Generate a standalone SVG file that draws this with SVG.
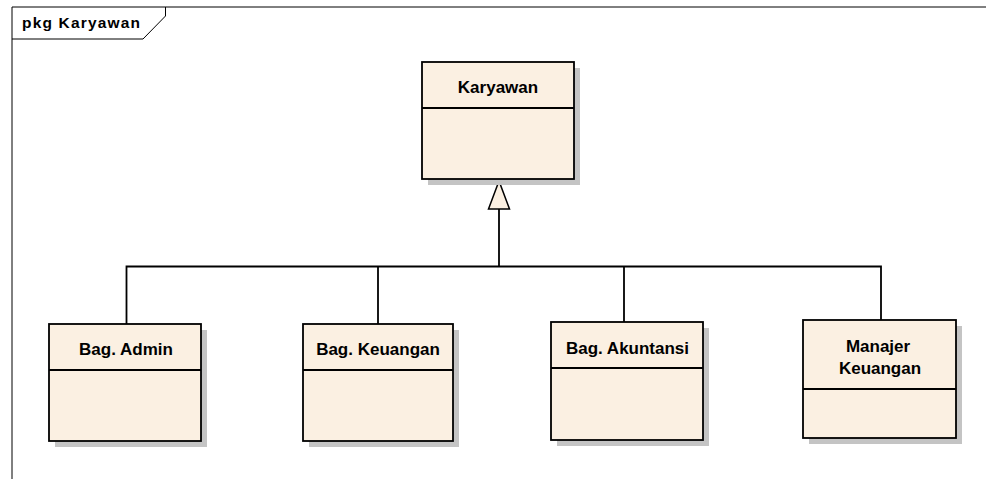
<svg xmlns="http://www.w3.org/2000/svg" width="986" height="479" viewBox="0 0 986 479">
  <style>
    .frame { fill: none; stroke: #000; stroke-width: 1; }
    .shadow { fill: #c4c4c4; stroke: none; }
    .box { fill: #fbf0e2; stroke: #000; stroke-width: 1.8; }
    .sep { stroke: #000; stroke-width: 1.8; }
    .name { font-family: "Liberation Sans", Arial, sans-serif; font-weight: bold; font-size: 17px; fill: #000; text-anchor: middle; }
    .label { font-family: "Liberation Sans", Arial, sans-serif; font-weight: bold; font-size: 15.5px; fill: #000; }
    .conn { fill: none; stroke: #000; stroke-width: 1.8; }
    .gen { fill: #fbf0e2; stroke: #000; stroke-width: 1.5; }
  </style>

  <rect width="986" height="479" fill="#fff"/>

  <!-- package frame with its name tab -->
  <g id="frame">
    <path class="frame" d="M12 479 V7 H986"/>
    <path class="frame" d="M12 39 H143 L165.5 16 V7"/>
    <text class="label" x="22" y="28" textLength="118" lengthAdjust="spacing">pkg Karyawan</text>
  </g>

  <!-- generalization connectors -->
  <g id="connectors">
    <path class="conn" d="M499 209 V266.5"/>
    <path class="conn" d="M126.5 324 V266.5 H881 V320"/>
    <path class="conn" d="M378 324 V266.5"/>
    <path class="conn" d="M624 322 V266.5"/>
    <polygon class="gen" points="499,181 488.5,209 509.5,209"/>
  </g>

  <g id="karyawan">
    <rect class="shadow" x="428" y="68" width="152" height="117"/>
    <rect class="box" x="422" y="62" width="152" height="117"/>
    <line class="sep" x1="422" y1="108" x2="574" y2="108"/>
    <text class="name" x="498" y="93">Karyawan</text>
  </g>

  <g id="bag-admin">
    <rect class="shadow" x="55" y="330" width="152" height="117"/>
    <rect class="box" x="49" y="324" width="152" height="117"/>
    <line class="sep" x1="49" y1="370" x2="201" y2="370"/>
    <text class="name" x="126" y="355">Bag. Admin</text>
  </g>

  <g id="bag-keuangan">
    <rect class="shadow" x="309" y="330" width="150" height="117"/>
    <rect class="box" x="303" y="324" width="150" height="117"/>
    <line class="sep" x1="303" y1="370" x2="453" y2="370"/>
    <text class="name" x="378" y="355">Bag. Keuangan</text>
  </g>

  <g id="bag-akuntansi">
    <rect class="shadow" x="557" y="328" width="152" height="118"/>
    <rect class="box" x="551" y="322" width="152" height="118"/>
    <line class="sep" x1="551" y1="368" x2="703" y2="368"/>
    <text class="name" x="627.5" y="353.5">Bag. Akuntansi</text>
  </g>

  <g id="manajer-keuangan">
    <rect class="shadow" x="809" y="326" width="153" height="118"/>
    <rect class="box" x="803" y="320" width="153" height="118"/>
    <line class="sep" x1="803" y1="389" x2="956" y2="389"/>
    <text class="name" x="878" y="352">Manajer</text>
    <text class="name" x="880" y="373.5">Keuangan</text>
  </g>
</svg>
